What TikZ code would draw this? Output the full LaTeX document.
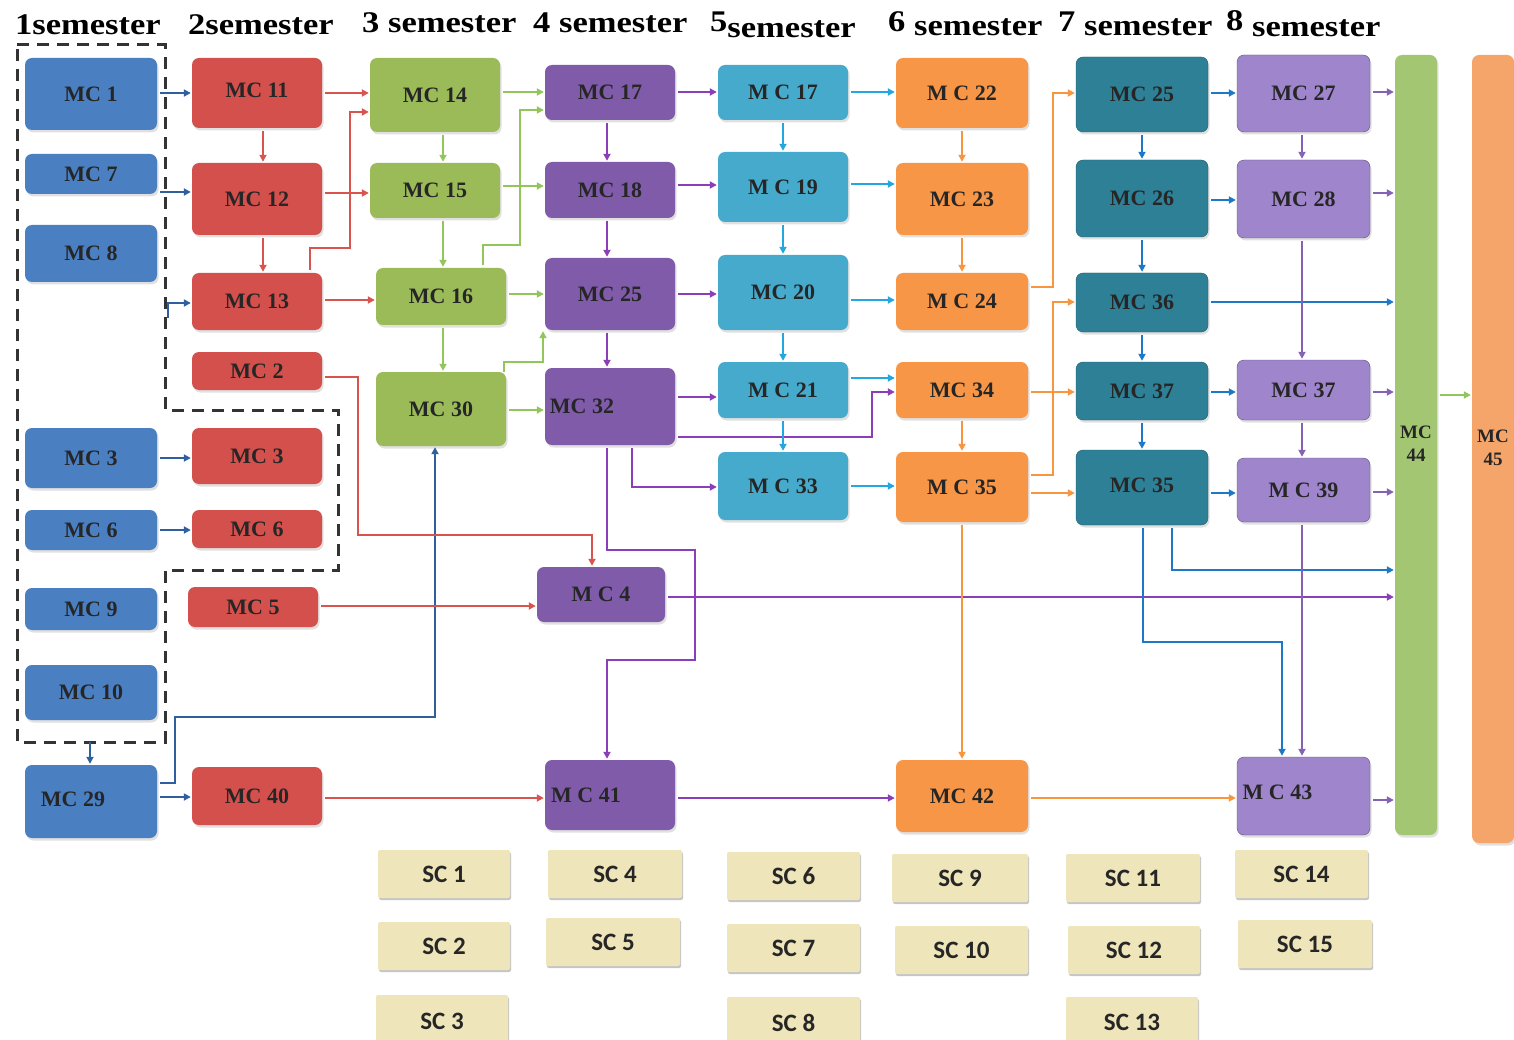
\documentclass[tikz,border=0pt]{standalone}
\usepackage{fontspec}
\setmainfont{Liberation Serif}
\newfontfamily\scfont{Carlito}
\usetikzlibrary{arrows.meta,shadows}
\definecolor{cBlue}{HTML}{4A7FC1}
\definecolor{cRed}{HTML}{D4504C}
\definecolor{cGreen}{HTML}{9BBB59}
\definecolor{cPurp}{HTML}{7F5BAA}
\definecolor{cCyan}{HTML}{45AACB}
\definecolor{cOrange}{HTML}{F79646}
\definecolor{cTeal}{HTML}{2E8097}
\definecolor{cLav}{HTML}{9F86CC}
\definecolor{cBarA}{HTML}{A3C673}
\definecolor{cBarB}{HTML}{F6A56A}
\definecolor{cSC}{HTML}{EFE5BA}
\definecolor{lBlueD}{HTML}{2F5F9E}
\definecolor{lRed}{HTML}{D9534F}
\definecolor{lGreen}{HTML}{92C55A}
\definecolor{lPurp}{HTML}{8A3FB8}
\definecolor{lCyan}{HTML}{22A7E0}
\definecolor{lOrange}{HTML}{F7963F}
\definecolor{lTeal}{HTML}{1E78C8}
\definecolor{lLav}{HTML}{8662B4}
\newcommand\MCbox[7]{\pgfmathsetmacro\bxw{#4-#2}\pgfmathsetmacro\bxh{#5-#3}%
  \node[#6,minimum width=\bxw pt,minimum height=\bxh pt] (#1) at ({(#2+#4)/2},{(#3+#5)/2}) {#7};}
\newcommand\HA[4]{\draw[#1] (#2.east |- 0,#4) -- (#3.west |- 0,#4);}
\newcommand\VA[4]{\draw[#1] (#2.south -| #4,0) -- (#3.north -| #4,0);}
\newcommand\hd[1]{\scalebox{1.15}[1]{#1}}
\newcommand\barlabel[1]{\raisebox{-16pt}{\begin{tabular}{@{}c@{}}MC\\#1\end{tabular}}}
\tikzset{
  mc/.style={draw=none, rounded corners=7pt, inner sep=0pt,
    font=\fontsize{22}{24}\selectfont\bfseries, text=black!85,
    drop shadow={shadow xshift=1.5pt, shadow yshift=-2.5pt, opacity=0.3, fill=black!40}},
  scbox/.style={rounded corners=2pt, fill=cSC, inner sep=0pt,
    font=\scfont\fontsize{25}{27}\selectfont\bfseries, text=black!85,
    drop shadow={shadow xshift=1pt, shadow yshift=-2pt, opacity=0.45, fill=black!50}},
  hdr/.style={font=\fontsize{30}{32}\selectfont\bfseries, inner sep=0pt, anchor=base west},
  con/.style={line width=2.2pt, -{Triangle[length=7pt,width=7pt]}, shorten <=3pt, shorten >=1pt},
  dashbox/.style={line width=3pt, dash pattern=on 12pt off 8pt, black!80}
}
\begin{document}
\begin{tikzpicture}[x=1pt,y=-1pt]
\useasboundingbox (0,0) rectangle (1514,1040);
\fill[white] (0,0) rectangle (1514,1040);
% headings
\node[hdr] (h1) at (15,35) {\hd{1semester}};
\node[hdr] (h2) at (188,35) {\hd{2semester}};
\node[hdr] (h3) at (362,33) {\hd{3 semester}};
\node[hdr] (h4) at (533,33) {\hd{4 semester}};
\node[hdr] (h5) at (710,38) {\hd{\raisebox{6pt}{5}semester}};
\node[hdr] (h6) at (888,36) {\hd{\raisebox{4pt}{6} semester}};
\node[hdr] (h7) at (1058,36) {\hd{\raisebox{4pt}{7} semester}};
\node[hdr] (h8) at (1226,37) {\hd{\raisebox{6pt}{8} semester}};
% dashed group
\draw[dashbox] (17,45) -- (165,45) -- (165,410) -- (338,410) -- (338,570) -- (165,570) -- (165,742) -- (17,742) -- cycle;
% column 1
\MCbox{b1}{25}{58}{157}{130}{mc,fill=cBlue}{MC 1}
\MCbox{b7}{25}{154}{157}{194}{mc,fill=cBlue}{MC 7}
\MCbox{b8}{25}{225}{157}{282}{mc,fill=cBlue}{MC 8}
\MCbox{b3}{25}{428}{157}{488}{mc,fill=cBlue}{MC 3}
\MCbox{b6}{25}{510}{157}{550}{mc,fill=cBlue}{MC 6}
\MCbox{b9}{25}{588}{157}{630}{mc,fill=cBlue}{MC 9}
\MCbox{b10}{25}{665}{157}{720}{mc,fill=cBlue}{MC 10}
\MCbox{b29}{25}{765}{157}{838}{mc,fill=cBlue}{\raisebox{5pt}{\kern-18pt MC 29\kern18pt}}
% column 2
\MCbox{r11}{192}{58}{322}{128}{mc,fill=cRed}{\raisebox{5pt}{MC 11}}
\MCbox{r12}{192}{163}{322}{235}{mc,fill=cRed}{MC 12}
\MCbox{r13}{192}{273}{322}{330}{mc,fill=cRed}{MC 13}
\MCbox{r2}{192}{352}{322}{390}{mc,fill=cRed}{MC 2}
\MCbox{r3}{192}{428}{322}{484}{mc,fill=cRed}{MC 3}
\MCbox{r6}{192}{510}{322}{548}{mc,fill=cRed}{MC 6}
\MCbox{r5}{188}{587}{318}{627}{mc,fill=cRed}{MC 5}
\MCbox{r40}{192}{767}{322}{825}{mc,fill=cRed}{MC 40}
% column 3
\MCbox{g14}{370}{58}{500}{132}{mc,fill=cGreen}{MC 14}
\MCbox{g15}{370}{163}{500}{218}{mc,fill=cGreen}{MC 15}
\MCbox{g16}{376}{268}{506}{325}{mc,fill=cGreen}{MC 16}
\MCbox{g30}{376}{372}{506}{446}{mc,fill=cGreen}{MC 30}
% column 4
\MCbox{p17}{545}{65}{675}{120}{mc,fill=cPurp}{MC 17}
\MCbox{p18}{545}{162}{675}{218}{mc,fill=cPurp}{MC 18}
\MCbox{p25}{545}{258}{675}{330}{mc,fill=cPurp}{MC 25}
\MCbox{p32}{545}{368}{675}{445}{mc,fill=cPurp}{\kern-28pt MC 32\kern28pt}
\MCbox{p4}{537}{567}{665}{622}{mc,fill=cPurp}{M C 4}
\MCbox{p41}{545}{760}{675}{830}{mc,fill=cPurp}{\kern-24pt M C 41\kern24pt}
% column 5
\MCbox{c17}{718}{65}{848}{120}{mc,fill=cCyan}{M C 17}
\MCbox{c19}{718}{152}{848}{222}{mc,fill=cCyan}{M C 19}
\MCbox{c20}{718}{255}{848}{330}{mc,fill=cCyan}{MC 20}
\MCbox{c21}{718}{362}{848}{418}{mc,fill=cCyan}{M C 21}
\MCbox{c33}{718}{452}{848}{520}{mc,fill=cCyan}{M C 33}
% column 6
\MCbox{o22}{896}{58}{1028}{128}{mc,fill=cOrange}{M C 22}
\MCbox{o23}{896}{163}{1028}{235}{mc,fill=cOrange}{MC 23}
\MCbox{o24}{896}{273}{1028}{330}{mc,fill=cOrange}{M C 24}
\MCbox{o34}{896}{362}{1028}{418}{mc,fill=cOrange}{MC 34}
\MCbox{o35}{896}{452}{1028}{522}{mc,fill=cOrange}{M C 35}
\MCbox{o42}{896}{760}{1028}{832}{mc,fill=cOrange}{MC 42}
% column 7
\MCbox{t25}{1076}{57}{1208}{132}{mc,fill=cTeal,draw=cTeal!70!black}{MC 25}
\MCbox{t26}{1076}{160}{1208}{237}{mc,fill=cTeal,draw=cTeal!70!black}{MC 26}
\MCbox{t36}{1076}{273}{1208}{332}{mc,fill=cTeal,draw=cTeal!70!black}{MC 36}
\MCbox{t37}{1076}{362}{1208}{420}{mc,fill=cTeal,draw=cTeal!70!black}{MC 37}
\MCbox{t35}{1076}{450}{1208}{525}{mc,fill=cTeal,draw=cTeal!70!black}{\raisebox{4pt}{MC 35}}
% column 8
\MCbox{l27}{1237}{55}{1370}{132}{mc,fill=cLav,draw=cLav!60!black}{MC 27}
\MCbox{l28}{1237}{160}{1370}{238}{mc,fill=cLav,draw=cLav!60!black}{MC 28}
\MCbox{l37}{1237}{360}{1370}{420}{mc,fill=cLav,draw=cLav!60!black}{MC 37}
\MCbox{l39}{1237}{458}{1370}{522}{mc,fill=cLav,draw=cLav!60!black}{M C 39}
\MCbox{l43}{1237}{757}{1370}{835}{mc,fill=cLav,draw=cLav!60!black}{\raisebox{8pt}{\kern-26pt M C 43\kern26pt}}
% bars
\MCbox{bar44}{1395}{55}{1437}{835}{mc,fill=cBarA,font=\fontsize{19}{23}\selectfont\bfseries}{\barlabel{44}}
\MCbox{bar45}{1472}{55}{1514}{843}{mc,fill=cBarB,font=\fontsize{19}{23}\selectfont\bfseries}{\barlabel{45}}
% SC boxes
\MCbox{s1}{378}{850}{510}{898}{scbox}{SC 1}
\MCbox{s2}{378}{922}{510}{970}{scbox}{SC 2}
\MCbox{s3}{376}{995}{508}{1048}{scbox}{SC 3}
\MCbox{s4}{548}{850}{682}{898}{scbox}{SC 4}
\MCbox{s5}{546}{918}{680}{966}{scbox}{SC 5}
\MCbox{s6}{727}{852}{860}{900}{scbox}{SC 6}
\MCbox{s7}{727}{924}{860}{972}{scbox}{SC 7}
\MCbox{s8}{727}{997}{860}{1048}{scbox}{SC 8}
\MCbox{s9}{892}{854}{1028}{902}{scbox}{SC 9}
\MCbox{s10}{895}{926}{1028}{974}{scbox}{SC 10}
\MCbox{s11}{1066}{854}{1200}{902}{scbox}{SC 11}
\MCbox{s12}{1068}{926}{1200}{974}{scbox}{SC 12}
\MCbox{s13}{1066}{997}{1198}{1048}{scbox}{SC 13}
\MCbox{s14}{1235}{850}{1368}{898}{scbox}{SC 14}
\MCbox{s15}{1238}{920}{1372}{968}{scbox}{SC 15}
% ---- connectors ----
% blue (semester 1)
\HA{con,lBlueD}{b1}{r11}{93}
\HA{con,lBlueD}{b7}{r12}{192}
\HA{con,lBlueD}{b3}{r3}{458}
\HA{con,lBlueD}{b6}{r6}{530}
\HA{con,lBlueD}{b29}{r40}{797}
\coordinate (d13) at (168,318);
\draw[con,lBlueD,shorten <=0pt] (d13) |- (r13.west |- 0,303);
\coordinate (dbot) at (90,742);
\draw[con,lBlueD,shorten <=0pt] (dbot) -- (b29.north -| dbot);
\draw[con,lBlueD] (b29.east |- 0,783) -- (175,783) -- (175,717) -- (435,717) -- (g30.south -| 435,0);
% red
\HA{con,lRed}{r11}{g14}{93}
\VA{con,lRed}{r11}{r12}{263}
\VA{con,lRed}{r12}{r13}{263}
\HA{con,lRed}{r12}{g15}{193}
\draw[con,lRed] (r13.north -| 310,0) -- (310,248) -- (350,248) -- (350,112) -- (g14.west |- 0,112);
\HA{con,lRed}{r13}{g16}{300}
\draw[con,lRed] (r2.east |- 0,377) -- (358,377) -- (358,535) -- (592,535) -- (p4.north -| 592,0);
\HA{con,lRed}{r5}{p4}{606}
\HA{con,lRed}{r40}{p41}{798}
% green
\HA{con,lGreen}{g14}{p17}{92}
\VA{con,lGreen}{g14}{g15}{443}
\HA{con,lGreen}{g15}{p18}{186}
\VA{con,lGreen}{g15}{g16}{443}
\draw[con,lGreen] (g16.north -| 483,0) -- (483,245) -- (520,245) -- (520,110) -- (p17.west |- 0,110);
\HA{con,lGreen}{g16}{p25}{294}
\VA{con,lGreen}{g16}{g30}{443}
\draw[con,lGreen,shorten <=0pt] (g30.north -| 504,0) -- (504,362) -- (543,362) -- (p25.south -| 543,0);
\HA{con,lGreen}{g30}{p32}{410}
% purple (semester 4)
\HA{con,lPurp}{p17}{c17}{92}
\VA{con,lPurp}{p17}{p18}{607}
\HA{con,lPurp}{p18}{c19}{185}
\VA{con,lPurp}{p18}{p25}{607}
\HA{con,lPurp}{p25}{c20}{294}
\VA{con,lPurp}{p25}{p32}{607}
\HA{con,lPurp}{p32}{c21}{397}
\draw[con,lPurp] (p32.east |- 0,437) -- (872,437) -- (872,392) -- (o34.west |- 0,392);
\draw[con,lPurp] (p32.south -| 632,0) -- (632,487) -- (c33.west |- 0,487);
\draw[con,lPurp] (p32.south -| 607,0) -- (607,550) -- (695,550) -- (695,660) -- (607,660) -- (p41.north -| 607,0);
\HA{con,lPurp}{p4}{bar44}{597}
\HA{con,lPurp}{p41}{o42}{798}
% cyan
\HA{con,lCyan}{c17}{o22}{92}
\VA{con,lCyan}{c17}{c19}{783}
\HA{con,lCyan}{c19}{o23}{184}
\VA{con,lCyan}{c19}{c20}{783}
\HA{con,lCyan}{c20}{o24}{300}
\VA{con,lCyan}{c20}{c21}{783}
\HA{con,lCyan}{c21}{o34}{378}
\VA{con,lCyan}{c21}{c33}{783}
\HA{con,lCyan}{c33}{o35}{486}
% orange
\VA{con,lOrange}{o22}{o23}{962}
\VA{con,lOrange}{o23}{o24}{962}
\draw[con,lOrange] (o24.east |- 0,287) -- (1053,287) -- (1053,93) -- (t25.west |- 0,93);
\HA{con,lOrange}{o34}{t37}{392}
\VA{con,lOrange}{o34}{o35}{962}
\draw[con,lOrange] (o35.east |- 0,475) -- (1053,475) -- (1053,302) -- (t36.west |- 0,302);
\HA{con,lOrange}{o35}{t35}{493}
\VA{con,lOrange}{o35}{o42}{962}
\HA{con,lOrange}{o42}{l43}{798}
% teal / blue (semester 7)
\HA{con,lTeal}{t25}{l27}{93}
\VA{con,lTeal}{t25}{t26}{1142}
\HA{con,lTeal}{t26}{l28}{200}
\VA{con,lTeal}{t26}{t36}{1142}
\HA{con,lTeal}{t36}{bar44}{302}
\VA{con,lTeal}{t36}{t37}{1142}
\HA{con,lTeal}{t37}{l37}{392}
\VA{con,lTeal}{t37}{t35}{1142}
\HA{con,lTeal}{t35}{l39}{493}
\draw[con,lTeal] (t35.south -| 1172,0) -- (1172,570) -- (bar44.west |- 0,570);
\draw[con,lTeal] (t35.south -| 1143,0) -- (1143,642) -- (1282,642) -- (l43.north -| 1282,0);
% lavender (semester 8)
\VA{con,lLav}{l27}{l28}{1302}
\HA{con,lLav}{l27}{bar44}{92}
\HA{con,lLav}{l28}{bar44}{193}
\VA{con,lLav}{l28}{l37}{1302}
\HA{con,lLav}{l37}{bar44}{392}
\VA{con,lLav}{l37}{l39}{1302}
\HA{con,lLav}{l39}{bar44}{492}
\VA{con,lLav}{l39}{l43}{1302}
\HA{con,lLav}{l43}{bar44}{800}
% bar to bar
\HA{con,lGreen}{bar44}{bar45}{395}
\end{tikzpicture}
\end{document}
